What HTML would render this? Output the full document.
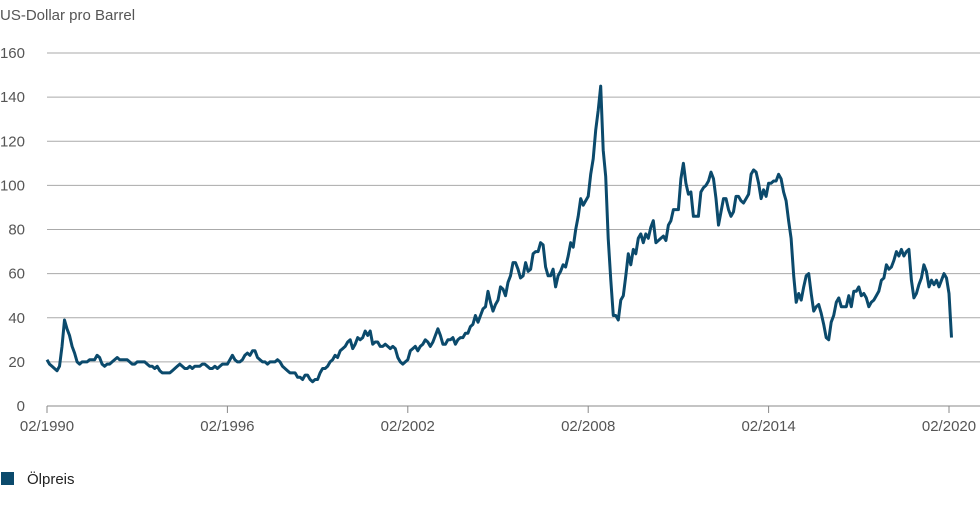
<!DOCTYPE html>
<html><head><meta charset="utf-8"><style>
body{margin:0;background:#fff;width:980px;height:500px;overflow:hidden;font-family:"Liberation Sans",sans-serif}
</style></head><body>
<svg id="chart" width="980" height="500" xmlns="http://www.w3.org/2000/svg">
<text x="0" y="20" font-size="15" fill="#555">US-Dollar pro Barrel</text>
<g id="grid"></g><g id="xaxis"></g>
<path id="line" fill="none" stroke="#0b4a6c" stroke-width="3" stroke-linejoin="round"/>
<rect x="1" y="472" width="13" height="13" fill="#0b4a6c"/>
<text x="27" y="484" font-size="15" fill="#222">Ölpreis</text>
</svg>
<script>
const yTicks=[0,20,40,60,80,100,120,140,160];
const xTickLabels=["02/1990","02/1996","02/2002","02/2008","02/2014","02/2020"];
const xTickYears=[1990,1996,2002,2008,2014,2020];
const startYear=1990;
const prices=[
21,21,19,18,17,16,18,27,39,35,32,27,
24,20,19,20,20,20,21,21,21,23,22,19,
18,19,19,20,21,22,21,21,21,21,20,19,
19,20,20,20,20,19,18,18,17,18,16,15,
15,15,15,16,17,18,19,18,17,17,18,17,
18,18,18,19,19,18,17,17,18,17,18,19,
19,19,21,23,21,20,20,21,23,24,23,25,
25,22,21,20,20,19,20,20,20,21,20,18,
17,16,15,15,15,13,13,12,14,14,12,11,
12,12,15,17,17,18,20,21,23,22,25,26,
27,29,30,26,28,31,30,31,34,32,34,28,
29,29,27,27,28,27,26,27,26,22,20,19,
20,21,25,26,27,25,27,28,30,29,27,29,
32,35,32,28,28,30,30,31,28,30,31,31,
33,33,36,37,41,38,41,44,45,52,47,43,
46,48,54,53,50,56,59,65,65,62,58,59,
65,61,62,69,70,70,74,73,63,59,59,62,
54,59,61,64,63,68,74,72,80,86,94,91,
93,95,105,112,125,134,145,116,104,76,57,41,
41,39,48,50,59,69,64,71,69,76,78,74,
78,76,81,84,74,75,76,77,75,82,84,89,
89,89,103,110,101,96,97,86,86,86,97,99,
100,102,106,103,94,82,88,94,94,89,86,88,
95,95,93,92,94,96,105,107,106,101,94,98,
95,101,101,102,102,105,103,97,93,84,76,59,
47,51,48,54,59,60,51,43,45,46,42,37,
31,30,38,41,47,49,45,45,45,50,45,52,
52,54,50,51,49,45,47,48,50,52,57,58,
64,62,63,66,70,68,71,68,70,71,57,49,
51,55,58,64,61,54,57,55,57,54,57,60,
58,51,31];
const X0=47,X1=949,Y0=406,Y160=53;
const xs=t=>X0+(t-(1990+1/12))/30*(X1-X0);
const ys=v=>Y0-v/160*(Y0-Y160);
const NS="http://www.w3.org/2000/svg";
const grid=document.getElementById('grid');
yTicks.forEach(v=>{
  if(v>0){const l=document.createElementNS(NS,'line');
  
  
  l.setAttribute('x1',X0);l.setAttribute('x2',980);l.setAttribute('y1',ys(v));l.setAttribute('y2',ys(v));
  l.setAttribute('stroke','#aaa');l.setAttribute('stroke-width','1');grid.appendChild(l);}
  const t=document.createElementNS(NS,'text');
  
  
  t.setAttribute('x',25);t.setAttribute('y',ys(v)+5);t.setAttribute('text-anchor','end');
  t.setAttribute('font-size','15');t.setAttribute('fill','#555');t.textContent=v;grid.appendChild(t);
});
const xa=document.getElementById('xaxis');
const ax=document.createElementNS(NS,'line');


ax.setAttribute('x1',X0);ax.setAttribute('x2',980);ax.setAttribute('y1',Y0);ax.setAttribute('y2',Y0);
ax.setAttribute('stroke','#888');xa.appendChild(ax);
xTickLabels.forEach((lab,i)=>{
  const x=xs(xTickYears[i]+1/12);
  const tk=document.createElementNS(NS,'line');
  
  
  tk.setAttribute('x1',x);tk.setAttribute('x2',x);tk.setAttribute('y1',Y0);tk.setAttribute('y2',Y0+7);
  tk.setAttribute('stroke','#888');xa.appendChild(tk);
  const t=document.createElementNS(NS,'text');
  
  
  t.setAttribute('x',x);t.setAttribute('y',Y0+25);t.setAttribute('text-anchor','middle');
  t.setAttribute('font-size','15');t.setAttribute('fill','#555');t.textContent=lab;xa.appendChild(t);
});
let d='';
prices.forEach((v,i)=>{
  if(i===0)return;
  const t=startYear+i/12;
  d+=(d?'L':'M')+xs(t).toFixed(1)+','+ys(v).toFixed(1);
});
document.getElementById('line').setAttribute('d',d);
</script>
</body></html>
